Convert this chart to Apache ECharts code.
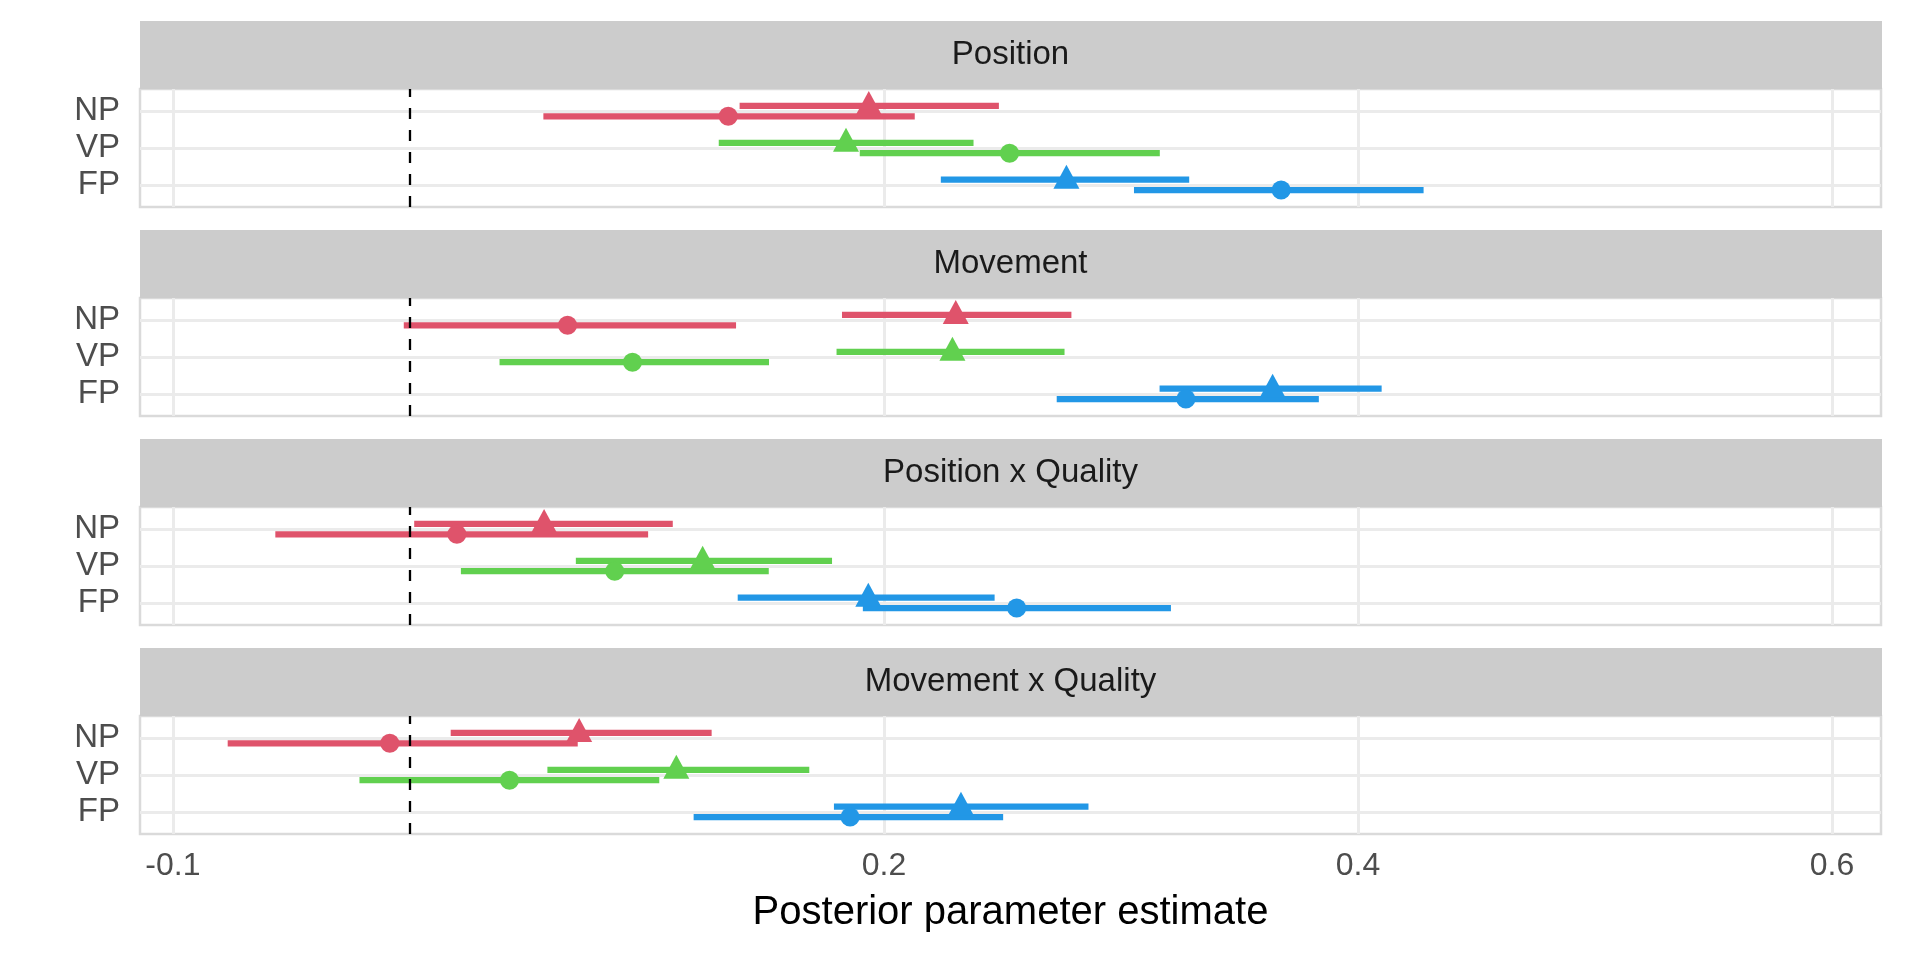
<!DOCTYPE html>
<html>
<head>
<meta charset="utf-8">
<script src="https://cdn.jsdelivr.net/npm/echarts@6/dist/echarts.min.js"></script>
<style>
html,body{margin:0;padding:0;background:#fff;}
#chart{width:1920px;height:960px;}
</style>
</head>
<body>
<div id="chart"></div>
<script>
// ---------------- data ----------------
const panelTitles = ['Position', 'Movement', 'Position x Quality', 'Movement x Quality'];
const groups = ['NP', 'VP', 'FP'];
const groupPos = [3, 2, 1];
const xTicks = [-0.1, 0.2, 0.4, 0.6];
const xTitle = 'Posterior parameter estimate';

// triangle estimates (per panel: NP, VP, FP)
const triEst = [
  [0.1936, 0.1840, 0.2770],
  [0.2303, 0.2289, 0.3640],
  [0.0566, 0.1235, 0.1934],
  [0.0714, 0.1124, 0.2325]
];
const triLo = [
  [0.1391, 0.1303, 0.2240],
  [0.1823, 0.1800, 0.3163],
  [0.0018, 0.0700, 0.1383],
  [0.0172, 0.0580, 0.1789]
];
const triHi = [
  [0.2485, 0.2378, 0.3288],
  [0.2791, 0.2762, 0.4100],
  [0.1109, 0.1781, 0.2467],
  [0.1273, 0.1685, 0.2863]
];
// circle estimates (per panel: NP, VP, FP)
const cirEst = [
  [0.1343, 0.2530, 0.3676],
  [0.0665, 0.0939, 0.3274],
  [0.0198, 0.0864, 0.2560],
  [-0.0085, 0.0420, 0.1857]
];
const cirLo = [
  [0.0563, 0.1898, 0.3055],
  [-0.0026, 0.0378, 0.2729],
  [-0.0568, 0.0215, 0.1911],
  [-0.0769, -0.0213, 0.1197]
];
const cirHi = [
  [0.2130, 0.3164, 0.4277],
  [0.1376, 0.1515, 0.3835],
  [0.1005, 0.1514, 0.3211],
  [0.0708, 0.1052, 0.2503]
];
const refLine = 0;

// ---------------- styles / layout ----------------
const groupColors = ['#DF536B', '#61D04F', '#2297E6'];
const FONT = 'Liberation Sans';
const L = 140, Rr = 1881;
const stripTop0 = 21, stripH = 68, panelTop0 = 89, panelH = 118, step = 209;
const dodge = 0.14;

const chart = echarts.init(document.getElementById('chart'), null, {renderer: 'canvas'});

const grids = [], xAxes = [], yAxes = [], series = [], graphics = [];

panelTitles.forEach((title, k) => {
  grids.push({
    left: L, top: panelTop0 + step * k, width: Rr - L, height: panelH,
    show: true, borderColor: '#DADADA', borderWidth: 2.5, backgroundColor: '#fff'
  });
  xAxes.push({
    type: 'value', gridIndex: k, min: -0.1139, max: 0.6207,
    axisLine: {show: false},
    axisTick: {show: false, customValues: xTicks},
    axisLabel: {
      show: k === panelTitles.length - 1, customValues: xTicks,
      formatter: v => String(v), fontSize: 32, color: '#4D4D4D', margin: 16, fontFamily: FONT
    },
    splitLine: {show: true, lineStyle: {color: '#EBEBEB', width: 3}},
    name: k === panelTitles.length - 1 ? xTitle : '',
    nameLocation: 'middle', nameGap: 59,
    nameTextStyle: {fontSize: 40, color: '#000', fontFamily: FONT}
  });
  yAxes.push({
    type: 'value', gridIndex: k, min: 0.4, max: 3.6,
    axisLine: {show: false},
    axisTick: {show: false, customValues: groupPos},
    axisLabel: {
      customValues: groupPos,
      formatter: v => groups[groupPos.indexOf(Math.round(v))],
      fontSize: 33, color: '#4D4D4D', margin: 20, fontFamily: FONT
    },
    splitLine: {show: true, lineStyle: {color: '#EBEBEB', width: 3}}
  });

  // interval lines
  const segs = [];
  groups.forEach((g, i) => {
    segs.push([cirLo[k][i], cirHi[k][i], groupPos[i] - dodge, i]);
    segs.push([triLo[k][i], triHi[k][i], groupPos[i] + dodge, i]);
  });
  series.push({
    type: 'custom', xAxisIndex: k, yAxisIndex: k, z: 2,
    encode: {x: [0, 1], y: 2},
    data: segs,
    renderItem: (params, api) => {
      const y = api.value(2);
      const a = api.coord([api.value(0), y]);
      const b = api.coord([api.value(1), y]);
      return {
        type: 'line',
        shape: {x1: a[0], y1: a[1], x2: b[0], y2: b[1]},
        style: {stroke: groupColors[api.value(3)], lineWidth: 6.3, lineCap: 'butt'}
      };
    },
    silent: true
  });
  // circles
  series.push({
    type: 'scatter', xAxisIndex: k, yAxisIndex: k, z: 3,
    symbol: 'circle', symbolSize: 19,
    data: groups.map((g, i) => ({value: [cirEst[k][i], groupPos[i] - dodge], itemStyle: {color: groupColors[i], opacity: 1}})),
    silent: true
  });
  // triangles
  series.push({
    type: 'scatter', xAxisIndex: k, yAxisIndex: k, z: 4,
    symbol: 'triangle', symbolSize: [26, 24], symbolOffset: [0, -3],
    data: groups.map((g, i) => ({value: [triEst[k][i], groupPos[i] + dodge], itemStyle: {color: groupColors[i], opacity: 1}})),
    silent: true
  });
  // dashed reference line
  series.push({
    type: 'scatter', xAxisIndex: k, yAxisIndex: k, z: 5, data: [],
    markLine: {
      silent: true, symbol: ['none', 'none'], animation: false,
      label: {show: false},
      lineStyle: {color: '#000', width: 2.3, type: [11, 11]},
      data: [{xAxis: refLine}]
    }
  });

  // strip
  graphics.push({
    type: 'rect', left: L, top: stripTop0 + step * k,
    shape: {width: Rr - L + 1, height: stripH},
    style: {fill: '#CCCCCC'}, silent: true
  });
  graphics.push({
    type: 'text', x: (L + Rr) / 2, y: stripTop0 + step * k + stripH / 2,
    style: {text: title, fill: '#1A1A1A', fontSize: 33, fontFamily: FONT, align: 'center', verticalAlign: 'middle'},
    silent: true
  });
});

chart.setOption({
  animation: false,
  backgroundColor: '#fff',
  textStyle: {fontFamily: FONT},
  grid: grids,
  xAxis: xAxes,
  yAxis: yAxes,
  series: series,
  graphic: graphics
});
</script>
</body>
</html>
